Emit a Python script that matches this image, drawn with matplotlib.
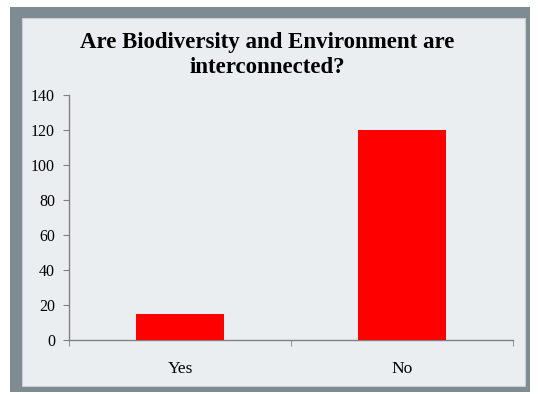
import matplotlib.pyplot as plt
from matplotlib.patches import Rectangle

categories = ["Yes", "No"]
counts = [15, 120]
y_ticks = [0, 20, 40, 60, 80, 100, 120, 140]

W, H = 538, 394
fig = plt.figure(figsize=(W / 100, H / 100), dpi=100, facecolor="white")

# slide frame: gray border + light panel, drawn in a background axes
bg = fig.add_axes([0, 0, 1, 1], zorder=-1)
bg.set_xlim(0, W)
bg.set_ylim(H, 0)
bg.axis("off")
bg.add_patch(Rectangle((10, 7), 520, 385, facecolor="#7e8b92", edgecolor="none"))
bg.add_patch(Rectangle((22, 18), 503, 368, facecolor="#ebeef1",
                       edgecolor="#c9ced2", linewidth=0.8))

ax = fig.add_axes([69 / W, 1 - 340 / H, (513 - 69) / W, (340 - 95) / H])
ax.set_facecolor("none")

x = range(len(categories))
ax.bar(x, counts, width=0.4, color="#ff0000", zorder=3)

ax.set_xlim(-0.5, len(categories) - 0.5)
ax.set_ylim(0, 140)
ax.set_yticks(y_ticks)
ax.set_xticks(list(x))
ax.set_xticklabels(categories)
ax.set_xticks([-0.5, 0.5, 1.5], minor=True)

for s in ["top", "right"]:
    ax.spines[s].set_visible(False)
for s in ["left", "bottom"]:
    ax.spines[s].set_color("#808080")
    ax.spines[s].set_linewidth(1.0)

ax.tick_params(axis="x", which="major", length=0, pad=15)
ax.tick_params(axis="x", which="minor", length=4, color="#808080", direction="out")
ax.tick_params(axis="y", length=4, color="#808080", direction="out", pad=6)

for lbl in ax.get_yticklabels():
    lbl.set_fontfamily("Liberation Serif")
    lbl.set_fontsize(11.5)
for lbl in ax.get_xticklabels():
    lbl.set_fontfamily("Liberation Serif")
    lbl.set_fontsize(12.5)

fig.text(267 / W, 1 - 55 / H, "Are Biodiversity and Environment are\ninterconnected?",
         ha="center", va="center", fontsize=16.5, fontweight="bold",
         fontfamily="Liberation Serif", linespacing=1.3)

fig.savefig("out.png", dpi=100)
